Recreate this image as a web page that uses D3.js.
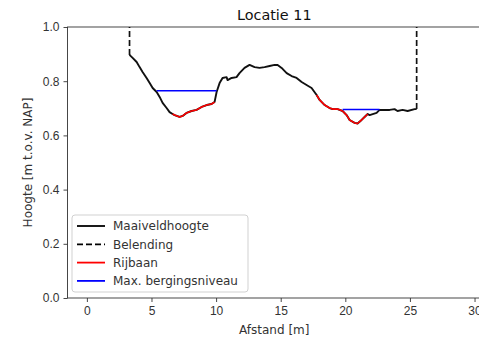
<!DOCTYPE html>
<html>
<head>
<meta charset="utf-8">
<script src="https://cdn.jsdelivr.net/npm/d3@7"></script>
<style>
  html, body { margin: 0; padding: 0; background: #fff; }
  svg { display: block; font-family: "DejaVu Sans", sans-serif; }
</style>
</head>
<body>
<div id="chart"></div>
<script>
// ---- Data
const title = 'Locatie 11';
const xLabel = 'Afstand [m]';
const yLabel = 'Hoogte [m t.o.v. NAP]';
const xTicks = [0, 5, 10, 15, 20, 25, 30];
const yTicks = [0.0, 0.2, 0.4, 0.6, 0.8, 1.0];

// Maaiveldhoogte profile
const profileX = [3.30, 3.54, 3.85, 4.08, 4.31, 4.62, 4.86, 5.09, 5.40, 5.63, 5.86, 6.17, 6.40, 6.63,
  6.79, 7.17, 7.41, 7.71, 8.10, 8.49, 8.88, 9.27, 9.65, 9.88, 10.04, 10.27, 10.50, 10.81, 10.89,
  11.20, 11.58, 11.81, 12.20, 12.59, 12.98, 13.36, 13.75, 14.14, 14.53, 14.76, 15.07, 15.46, 15.84,
  16.23, 16.62, 17.00, 17.39, 17.78, 18.01, 18.40, 18.78, 19.02, 19.40, 19.79, 20.10, 20.33, 20.72,
  20.95, 21.26, 21.49, 21.73, 21.88, 22.42, 22.65, 23.04, 23.43, 23.81, 24.04, 24.43, 24.82, 25.36, 25.52];
const profileY = [0.897, 0.886, 0.871, 0.852, 0.834, 0.812, 0.793, 0.775, 0.760, 0.742, 0.720, 0.701, 0.686, 0.679,
  0.675, 0.668, 0.672, 0.683, 0.690, 0.694, 0.705, 0.712, 0.716, 0.723, 0.760, 0.793, 0.812, 0.815, 0.804,
  0.812, 0.815, 0.830, 0.849, 0.860, 0.852, 0.849, 0.852, 0.856, 0.860, 0.860, 0.849, 0.830, 0.819,
  0.812, 0.797, 0.786, 0.775, 0.749, 0.731, 0.712, 0.701, 0.697, 0.697, 0.690, 0.675, 0.657, 0.646,
  0.644, 0.657, 0.668, 0.679, 0.675, 0.683, 0.694, 0.694, 0.694, 0.697, 0.690, 0.694, 0.690, 0.697, 0.697];

// Belending (dashed verticals)
const belending = [
  { x: 3.30,  y0: 0.897, y1: 1.0 },
  { x: 25.52, y0: 0.697, y1: 1.0 }
];

// Rijbaan stretches [from, to] in m
const rijbaan = [[6.60, 9.90], [17.70, 21.75]];

// Max. bergingsniveau: [from, to, level]
const berging = [[5.40, 10.04, 0.765], [19.79, 22.65, 0.696]];

const legendItems = [
  { label: 'Maaiveldhoogte', color: '#000', dash: null },
  { label: 'Belending', color: '#000', dash: '6,3' },
  { label: 'Rijbaan', color: '#ff0000', dash: null },
  { label: 'Max. bergingsniveau', color: '#0000ff', dash: null }
];

// ---- Layout
const W = 479, H = 343;
const margin = { left: 67.5, top: 27, right: -2, bottom: 45 };
const width = W - margin.left - margin.right;
const height = H - margin.top - margin.bottom;

const svg = d3.select('#chart').append('svg').attr('width', W).attr('height', H);

const x = d3.scaleLinear().domain([-1.5, 30.5]).range([0, width]);
const y = d3.scaleLinear().domain([0, 1]).range([height, 0]);

const g = svg.append('g').attr('transform', `translate(${margin.left},${margin.top})`);

// ---- Axes
const textColor = '#333';
const xAxis = g.append('g').attr('transform', `translate(0,${height})`)
  .call(d3.axisBottom(x).tickValues(xTicks).tickFormat(d3.format('d')).tickSize(4).tickPadding(4));
const yAxis = g.append('g')
  .call(d3.axisLeft(y).tickValues(yTicks).tickFormat(d3.format('.1f')).tickSize(4).tickPadding(4));
[xAxis, yAxis].forEach(a => {
  a.select('.domain').remove();
  a.selectAll('.tick line').attr('stroke', '#333').attr('stroke-width', 0.9);
  a.selectAll('.tick text').attr('fill', textColor).style('font-size', '12px');
});

// spines
g.append('rect').attr('x', 0).attr('y', 0).attr('width', width).attr('height', height)
  .attr('fill', 'none').attr('stroke', '#333').attr('stroke-width', 0.9);

// ---- Lines
const clip = g.append('clipPath').attr('id', 'clip')
  .append('rect').attr('width', width).attr('height', height);
const marks = g.append('g').attr('clip-path', 'url(#clip)');

const profile = profileX.map((v, i) => ({ x: v, y: profileY[i] }));
const line = d3.line().x(d => x(d.x)).y(d => y(d.y));

marks.append('path').datum(profile)
  .attr('d', line).attr('fill', 'none').attr('stroke', '#111').attr('stroke-width', 1.9)
  .attr('stroke-linejoin', 'round');

belending.forEach(b => {
  marks.append('line')
    .attr('x1', x(b.x)).attr('x2', x(b.x)).attr('y1', y(b.y0)).attr('y2', y(b.y1))
    .attr('stroke', '#111').attr('stroke-width', 1.7).attr('stroke-dasharray', '6,3');
});

rijbaan.forEach(([a, b]) => {
  marks.append('path').datum(profile.filter(d => d.x >= a && d.x <= b))
    .attr('d', line).attr('fill', 'none').attr('stroke', '#ff0000').attr('stroke-width', 1.6)
    .attr('stroke-linejoin', 'round');
});

berging.forEach(([a, b, lvl]) => {
  marks.append('line')
    .attr('x1', x(a)).attr('x2', x(b)).attr('y1', y(lvl)).attr('y2', y(lvl))
    .attr('stroke', '#0000ff').attr('stroke-width', 1.5);
});

// ---- Title and axis labels
svg.append('text').attr('x', margin.left + width / 2).attr('y', 20)
  .attr('text-anchor', 'middle').attr('fill', '#111').style('font-size', '14.4px').text(title);
svg.append('text').attr('x', margin.left + width / 2).attr('y', 334)
  .attr('text-anchor', 'middle').attr('fill', textColor).style('font-size', '12px').text(xLabel);
svg.append('text').attr('transform', `translate(32,${margin.top + height / 2}) rotate(-90)`)
  .attr('text-anchor', 'middle').attr('fill', textColor).style('font-size', '12px').text(yLabel);

// ---- Legend
const lg = svg.append('g').attr('transform', 'translate(72,215)');
lg.append('rect').attr('width', 176).attr('height', 77).attr('rx', 3)
  .attr('fill', '#fff').attr('fill-opacity', 0.8).attr('stroke', '#ccc').attr('stroke-width', 0.9);
legendItems.forEach((it, i) => {
  const yy = 11 + i * 18.3;
  lg.append('line').attr('x1', 5).attr('x2', 33).attr('y1', yy).attr('y2', yy)
    .attr('stroke', it.color).attr('stroke-width', 1.8)
    .attr('stroke-dasharray', it.dash);
  lg.append('text').attr('x', 41).attr('y', yy + 4.3)
    .attr('fill', textColor).style('font-size', '12px').text(it.label);
});
</script>
</body>
</html>
